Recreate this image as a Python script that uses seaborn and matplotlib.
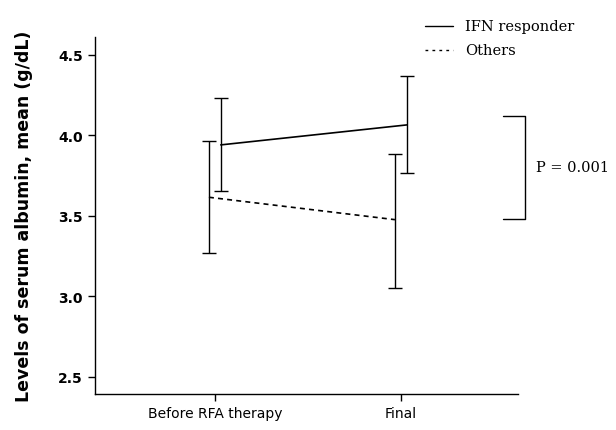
import matplotlib
matplotlib.use("Agg")
import matplotlib.pyplot as plt
import seaborn as sns
import pandas as pd

# values
timepoints = ["Before RFA therapy", "Final"]
groups = ["IFN responder", "Others"]
ifn_mean = [3.94, 4.064]
ifn_upper = [4.234, 4.365]
ifn_lower = [3.652, 3.766]
oth_mean = [3.615, 3.476]
oth_upper = [3.965, 3.886]
oth_lower = [3.267, 3.05]
yticks = [2.5, 3.0, 3.5, 4.0, 4.5]
p_text = "P = 0.001"
p_top, p_bottom = 4.12, 3.483

sns.set_style("white")
plt.rcParams["text.color"] = "black"
plt.rcParams["xtick.color"] = "black"
plt.rcParams["ytick.color"] = "black"
plt.rcParams["axes.labelcolor"] = "black"

rows = []
for g, m, lo, hi in [(groups[0], ifn_mean, ifn_lower, ifn_upper),
                     (groups[1], oth_mean, oth_lower, oth_upper)]:
    for i, t in enumerate(timepoints):
        rows.append({"group": g, "time": t, "pos": i, "mean": m[i], "lo": lo[i], "hi": hi[i]})
df = pd.DataFrame(rows)
shift = {groups[0]: 0.032, groups[1]: -0.032}
df["x"] = df["pos"] + df["group"].map(shift)

fig = plt.figure(figsize=(6.16, 4.31), dpi=100)
ax = fig.add_axes([0.154, 0.0835, 0.687, 0.8285])

sns.lineplot(data=df, x="x", y="mean", style="group", color="black",
             dashes={groups[0]: "", groups[1]: (3, 2.5)}, linewidth=1.2,
             ax=ax, legend=False)

for _, r in df.iterrows():
    ax.errorbar(r["x"], r["mean"], yerr=[[r["mean"] - r["lo"]], [r["hi"] - r["mean"]]],
                fmt="none", ecolor="black", elinewidth=1.0, capsize=5, capthick=1.0)

ax.set_xlim(-0.645, 1.63)
ax.set_ylim(2.394, 4.61)
ax.set_xticks([0, 1])
ax.set_xticklabels(timepoints, fontsize=10)
ax.set_yticks(yticks)
ax.set_yticklabels([f"{v:.1f}" for v in yticks], fontsize=10, fontweight="bold")
ax.set_xlabel("")
ax.set_ylabel("Levels of serum albumin, mean (g/dL)", fontsize=12.5,
              fontweight="bold", labelpad=18)
for s in ["top", "right"]:
    ax.spines[s].set_visible(False)
for s in ["left", "bottom"]:
    ax.spines[s].set_color("black")
    ax.spines[s].set_linewidth(1.0)
ax.tick_params(axis="both", direction="out", length=5, width=1, color="black",
               left=True, bottom=True)

# significance bracket
bx0, bx1 = 1.55, 1.67
ax.plot([bx0, bx1, bx1, bx0], [p_top, p_top, p_bottom, p_bottom],
        color="black", linewidth=1.0, clip_on=False)
ax.text(1.725, (p_top + p_bottom) / 2, p_text, fontsize=10.5, family="DejaVu Serif",
        va="center", ha="left", clip_on=False)

# legend above the plot area
fig.lines.append(plt.Line2D([425 / 616, 453 / 616], [1 - 27 / 431, 1 - 27 / 431],
                            color="black", linewidth=1.0, transform=fig.transFigure))
fig.lines.append(plt.Line2D([425 / 616, 453 / 616], [1 - 51 / 431, 1 - 51 / 431],
                            color="black", linewidth=1.0, linestyle=(0, (2, 3)),
                            transform=fig.transFigure))
fig.text(465 / 616, 1 - 27 / 431, groups[0], fontsize=10.5, family="DejaVu Serif", va="center")
fig.text(465 / 616, 1 - 51 / 431, groups[1], fontsize=10.5, family="DejaVu Serif", va="center")

fig.savefig("out.png", dpi=100)
